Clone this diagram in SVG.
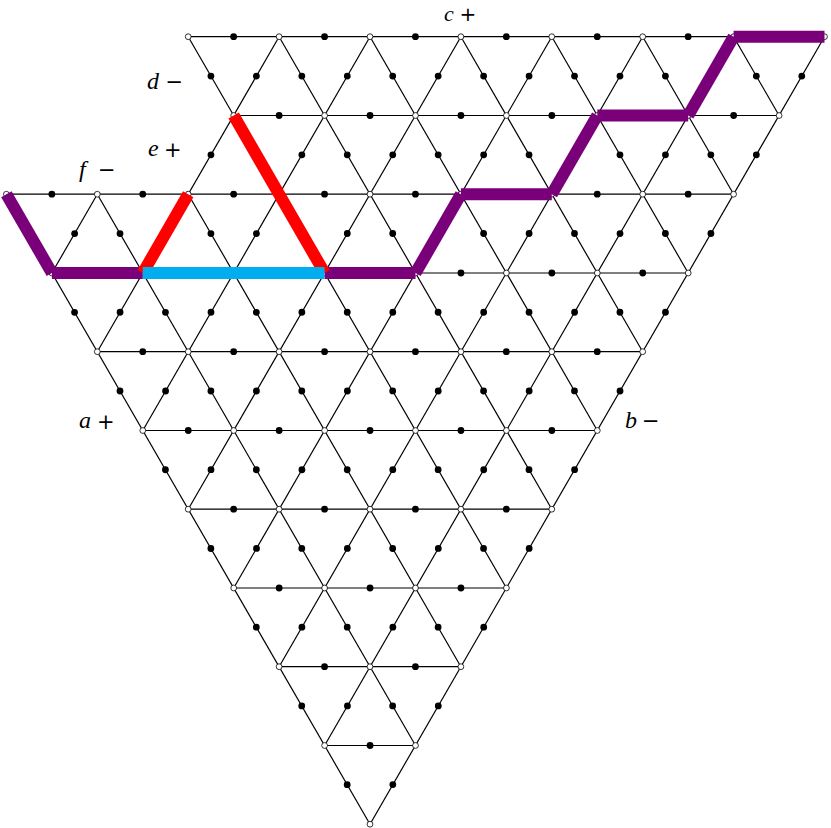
<svg xmlns="http://www.w3.org/2000/svg" xmlns:xlink="http://www.w3.org/1999/xlink" width="831" height="828" viewBox="0 0 831 828">
<style>
.edges{stroke:#000;stroke-width:1.2;fill:none}
.dots{stroke:#000;stroke-width:6.8;stroke-linecap:round;stroke-dasharray:0 90.9;stroke-dashoffset:45.45;fill:none}
.v circle{fill:#fff;stroke:#000;stroke-width:0.8}
.thick line{stroke-width:12;stroke-linecap:butt}
.pu{stroke:#7a007a}
.rd{stroke:#ff0000}
.cy{stroke:#00aeef}
.lt{font-family:"Liberation Serif",serif;font-style:italic;font-size:24px;fill:#000}
.op{font-family:"DejaVu Sans",sans-serif;font-size:21px;fill:#000}
</style>
<defs>
<g id="lat">
<line x1="188.2" y1="36.7" x2="824.5" y2="36.7"/>
<line x1="233.7" y1="115.5" x2="779.1" y2="115.5"/>
<line x1="6.4" y1="194.2" x2="733.6" y2="194.2"/>
<line x1="51.9" y1="273" x2="688.2" y2="273"/>
<line x1="97.3" y1="351.7" x2="642.7" y2="351.7"/>
<line x1="142.8" y1="430.5" x2="597.3" y2="430.5"/>
<line x1="188.2" y1="509.2" x2="551.8" y2="509.2"/>
<line x1="233.7" y1="588" x2="506.4" y2="588"/>
<line x1="279.1" y1="666.7" x2="460.9" y2="666.7"/>
<line x1="324.6" y1="745.5" x2="415.5" y2="745.5"/>
<line x1="6.4" y1="194.2" x2="370" y2="824.2"/>
<line x1="97.3" y1="194.2" x2="415.5" y2="745.5"/>
<line x1="188.2" y1="194.2" x2="460.9" y2="666.7"/>
<line x1="188.2" y1="36.7" x2="506.4" y2="588"/>
<line x1="279.1" y1="36.7" x2="551.8" y2="509.2"/>
<line x1="370" y1="36.7" x2="597.3" y2="430.5"/>
<line x1="460.9" y1="36.7" x2="642.7" y2="351.7"/>
<line x1="551.8" y1="36.7" x2="688.2" y2="273"/>
<line x1="642.7" y1="36.7" x2="733.6" y2="194.2"/>
<line x1="733.6" y1="36.7" x2="779.1" y2="115.5"/>
<line x1="97.3" y1="194.2" x2="51.9" y2="273"/>
<line x1="279.1" y1="36.7" x2="97.3" y2="351.7"/>
<line x1="370" y1="36.7" x2="142.8" y2="430.5"/>
<line x1="460.9" y1="36.7" x2="188.2" y2="509.2"/>
<line x1="551.8" y1="36.7" x2="233.7" y2="588"/>
<line x1="642.7" y1="36.7" x2="279.1" y2="666.7"/>
<line x1="733.6" y1="36.7" x2="324.6" y2="745.5"/>
<line x1="824.5" y1="36.7" x2="370" y2="824.2"/>
</g>
</defs>
<g id="connectors">
<use xlink:href="#lat" href="#lat" class="edges"/>
<use xlink:href="#lat" href="#lat" class="dots"/>
</g>
<g id="vertices" class="v">
<g id="n0_1"><circle cx="188.2" cy="36.7" r="2.9"/></g>
<g id="n0_2"><circle cx="279.1" cy="36.7" r="2.9"/></g>
<g id="n0_3"><circle cx="370" cy="36.7" r="2.9"/></g>
<g id="n0_4"><circle cx="460.9" cy="36.7" r="2.9"/></g>
<g id="n0_5"><circle cx="551.8" cy="36.7" r="2.9"/></g>
<g id="n0_6"><circle cx="642.7" cy="36.7" r="2.9"/></g>
<g id="n0_7"><circle cx="733.6" cy="36.7" r="2.9"/></g>
<g id="n0_8"><circle cx="824.5" cy="36.7" r="2.9"/></g>
<g id="n1_1"><circle cx="233.7" cy="115.5" r="2.9"/></g>
<g id="n1_2"><circle cx="324.6" cy="115.5" r="2.9"/></g>
<g id="n1_3"><circle cx="415.5" cy="115.5" r="2.9"/></g>
<g id="n1_4"><circle cx="506.4" cy="115.5" r="2.9"/></g>
<g id="n1_5"><circle cx="597.3" cy="115.5" r="2.9"/></g>
<g id="n1_6"><circle cx="688.2" cy="115.5" r="2.9"/></g>
<g id="n1_7"><circle cx="779.1" cy="115.5" r="2.9"/></g>
<g id="n2_1"><circle cx="6.4" cy="194.2" r="2.9"/></g>
<g id="n2_2"><circle cx="97.3" cy="194.2" r="2.9"/></g>
<g id="n2_3"><circle cx="188.2" cy="194.2" r="2.9"/></g>
<g id="n2_4"><circle cx="279.1" cy="194.2" r="2.9"/></g>
<g id="n2_5"><circle cx="370" cy="194.2" r="2.9"/></g>
<g id="n2_6"><circle cx="460.9" cy="194.2" r="2.9"/></g>
<g id="n2_7"><circle cx="551.8" cy="194.2" r="2.9"/></g>
<g id="n2_8"><circle cx="642.7" cy="194.2" r="2.9"/></g>
<g id="n2_9"><circle cx="733.6" cy="194.2" r="2.9"/></g>
<g id="n3_1"><circle cx="51.9" cy="273" r="2.9"/></g>
<g id="n3_2"><circle cx="142.8" cy="273" r="2.9"/></g>
<g id="n3_3"><circle cx="233.7" cy="273" r="2.9"/></g>
<g id="n3_4"><circle cx="324.6" cy="273" r="2.9"/></g>
<g id="n3_5"><circle cx="415.5" cy="273" r="2.9"/></g>
<g id="n3_6"><circle cx="506.4" cy="273" r="2.9"/></g>
<g id="n3_7"><circle cx="597.3" cy="273" r="2.9"/></g>
<g id="n3_8"><circle cx="688.2" cy="273" r="2.9"/></g>
<g id="n4_1"><circle cx="97.3" cy="351.7" r="2.9"/></g>
<g id="n4_2"><circle cx="188.2" cy="351.7" r="2.9"/></g>
<g id="n4_3"><circle cx="279.1" cy="351.7" r="2.9"/></g>
<g id="n4_4"><circle cx="370" cy="351.7" r="2.9"/></g>
<g id="n4_5"><circle cx="460.9" cy="351.7" r="2.9"/></g>
<g id="n4_6"><circle cx="551.8" cy="351.7" r="2.9"/></g>
<g id="n4_7"><circle cx="642.7" cy="351.7" r="2.9"/></g>
<g id="n5_1"><circle cx="142.8" cy="430.5" r="2.9"/></g>
<g id="n5_2"><circle cx="233.7" cy="430.5" r="2.9"/></g>
<g id="n5_3"><circle cx="324.6" cy="430.5" r="2.9"/></g>
<g id="n5_4"><circle cx="415.5" cy="430.5" r="2.9"/></g>
<g id="n5_5"><circle cx="506.4" cy="430.5" r="2.9"/></g>
<g id="n5_6"><circle cx="597.3" cy="430.5" r="2.9"/></g>
<g id="n6_1"><circle cx="188.2" cy="509.2" r="2.9"/></g>
<g id="n6_2"><circle cx="279.1" cy="509.2" r="2.9"/></g>
<g id="n6_3"><circle cx="370" cy="509.2" r="2.9"/></g>
<g id="n6_4"><circle cx="460.9" cy="509.2" r="2.9"/></g>
<g id="n6_5"><circle cx="551.8" cy="509.2" r="2.9"/></g>
<g id="n7_1"><circle cx="233.7" cy="588" r="2.9"/></g>
<g id="n7_2"><circle cx="324.6" cy="588" r="2.9"/></g>
<g id="n7_3"><circle cx="415.5" cy="588" r="2.9"/></g>
<g id="n7_4"><circle cx="506.4" cy="588" r="2.9"/></g>
<g id="n8_1"><circle cx="279.1" cy="666.7" r="2.9"/></g>
<g id="n8_2"><circle cx="370" cy="666.7" r="2.9"/></g>
<g id="n8_3"><circle cx="460.9" cy="666.7" r="2.9"/></g>
<g id="n9_1"><circle cx="324.6" cy="745.5" r="2.9"/></g>
<g id="n9_2"><circle cx="415.5" cy="745.5" r="2.9"/></g>
<g id="n10_1"><circle cx="370" cy="824.2" r="2.9"/></g>
</g>
<g id="paths" class="thick">
<line class="pu" x1="6.4" y1="194.2" x2="51.9" y2="273"/>
<line class="pu" x1="51.9" y1="273" x2="142.8" y2="273"/>
<line class="pu" x1="324.6" y1="273" x2="415.5" y2="273"/>
<line class="pu" x1="415.5" y1="273" x2="460.9" y2="194.2"/>
<line class="pu" x1="460.9" y1="194.2" x2="551.8" y2="194.2"/>
<line class="pu" x1="551.8" y1="194.2" x2="597.3" y2="115.5"/>
<line class="pu" x1="597.3" y1="115.5" x2="688.2" y2="115.5"/>
<line class="pu" x1="688.2" y1="115.5" x2="733.6" y2="36.7"/>
<line class="pu" x1="733.6" y1="36.7" x2="824.5" y2="36.7"/>
<line class="rd" x1="142.8" y1="273" x2="188.2" y2="194.2"/>
<line class="rd" x1="233.7" y1="115.5" x2="324.6" y2="273"/>
<line class="cy" x1="142.8" y1="273" x2="324.6" y2="273"/>
</g>
<g id="labels">
<text class="lt" x="444" y="20.5" style="font-size:22px">c</text><text class="op" x="459.5" y="20.5" style="font-size:20px">+</text>
<text class="lt" x="147" y="89">d</text><text class="op" x="165.5" y="89">−</text>
<text class="lt" x="148" y="156">e</text><text class="op" x="164" y="156.5">+</text>
<text class="lt" x="79" y="177">f</text><text class="op" x="98" y="177">−</text>
<text class="lt" x="79" y="428">a</text><text class="op" x="97" y="428.5">+</text>
<text class="lt" x="625" y="428">b</text><text class="op" x="642" y="428">−</text>
</g>
</svg>
